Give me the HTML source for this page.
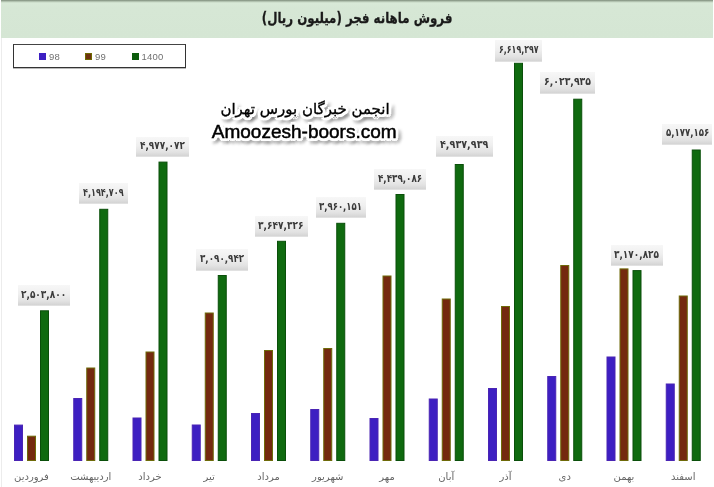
<!DOCTYPE html>
<html lang="fa"><head><meta charset="utf-8"><title>فروش ماهانه فجر</title>
<style>
html,body{margin:0;padding:0;background:#fff}
body{width:714px;height:487px;position:relative;overflow:hidden;font-family:"Liberation Sans","DejaVu Sans",sans-serif}
.hdr{position:absolute;left:1px;top:0;width:712px;height:38px;background:linear-gradient(#82917f 0,#9aaa98 1px,#c9dac7 2px,#d8e9d7 3.5px,#d6e7d5 8px,#d5e6d4 100%)}
.ax{position:absolute;left:1px;top:38px;width:1px;height:449px;background:#ececec}
.title{position:absolute;left:0;top:6px;width:714px;text-align:center;font-family:"DejaVu Sans",sans-serif;font-weight:bold;font-size:15px;color:#1a1a1a;direction:rtl;line-height:24px;-webkit-text-stroke:.3px #1a1a1a;transform:scaleX(.787);transform-origin:357.3px 50%}
.legend{position:absolute;left:13px;top:44px;width:171px;height:22px;border:1px solid #333;border-top-color:#444;background:#fff;box-shadow:0 .5px 0 #777}
.lg{position:absolute;top:7.6px;width:7px;height:7px}
.lt{position:absolute;top:5px;font-size:9.5px;letter-spacing:.25px;line-height:13px;color:#707070}
svg.bars{position:absolute;left:0;top:0}
.b{fill:#3d1fc2;stroke:#4a25b4;stroke-width:1}
.r{fill:#74290f;stroke:#6e6a08;stroke-width:1}
.g{fill:#0f6a0f;stroke:#0a4f0a;stroke-width:1}
.ml{position:absolute;top:468.5px;width:80px;text-align:center;font-family:"DejaVu Sans",sans-serif;font-size:10px;line-height:16px;color:#666;direction:rtl}
.dl{position:absolute;font-family:"DejaVu Sans",sans-serif;font-weight:bold;font-size:11px;line-height:16px;color:#3a3a3a;direction:ltr;background:linear-gradient(#f7f7f7 0,#efefef 45%,#e2e2e2 80%,#d4d4d4 100%);box-shadow:0 .6px 0 #cdcdcd}
.dl span{position:absolute;height:16px;line-height:16px;display:block}
.dl i{font-style:normal;display:inline-block;white-space:nowrap;position:absolute;left:0;top:0;transform-origin:0 50%}
.wm{position:absolute;width:300px;text-align:center;color:#000;white-space:nowrap;
text-shadow:1.50px 0.00px 0 #fff,1.06px 1.06px 0 #fff,0.00px 1.50px 0 #fff,-1.06px 1.06px 0 #fff,-1.50px 0.00px 0 #fff,-1.06px -1.06px 0 #fff,-0.00px -1.50px 0 #fff,1.06px -1.06px 0 #fff,3.00px 0.00px 0 #fff,2.60px 1.50px 0 #fff,1.50px 2.60px 0 #fff,0.00px 3.00px 0 #fff,-1.50px 2.60px 0 #fff,-2.60px 1.50px 0 #fff,-3.00px 0.00px 0 #fff,-2.60px -1.50px 0 #fff,-1.50px -2.60px 0 #fff,-0.00px -3.00px 0 #fff,1.50px -2.60px 0 #fff,2.60px -1.50px 0 #fff,4px 5px 3px rgba(0,0,0,.35),1px 6px 3px rgba(0,0,0,.3),6px 2px 3px rgba(0,0,0,.25),3px 4px 4px rgba(0,0,0,.3)}
.wm1{left:155px;top:97px;font-family:"DejaVu Sans",sans-serif;font-size:15px;line-height:24px;direction:rtl;-webkit-text-stroke:.35px #000}
.wm2{left:154.2px;top:119.5px;font-size:19px;line-height:24px;-webkit-text-stroke:.5px #000}
</style></head><body>
<div class="hdr"></div><div class="ax"></div>
<div class="title">فروش ماهانه فجر (میلیون ریال)</div>
<div class="legend">
<span class="lg" style="left:25px;background:#3d1fc2"></span><span class="lt" style="left:35px">98</span>
<span class="lg" style="left:71px;background:#6e3210;outline:1px solid #6e6a00;outline-offset:-1px"></span><span class="lt" style="left:81px">99</span>
<span class="lg" style="left:118px;background:#0c5c0c"></span><span class="lt" style="left:127.5px">1400</span>
</div>
<svg class="bars" width="714" height="487" viewBox="0 0 714 487">
<rect class="b" x="14.50" y="425.1" width="8" height="35.4"/>
<rect class="r" x="27.50" y="436.2" width="8" height="24.3"/>
<rect class="g" x="40.50" y="310.8" width="8" height="149.7"/>
<rect class="b" x="73.75" y="398.5" width="8" height="62.0"/>
<rect class="r" x="86.75" y="368.0" width="8" height="92.5"/>
<rect class="g" x="99.75" y="209.3" width="8" height="251.2"/>
<rect class="b" x="133.00" y="418.0" width="8" height="42.5"/>
<rect class="r" x="146.00" y="352.0" width="8" height="108.5"/>
<rect class="g" x="159.00" y="162.1" width="8" height="298.4"/>
<rect class="b" x="192.25" y="425.0" width="8" height="35.5"/>
<rect class="r" x="205.25" y="313.0" width="8" height="147.5"/>
<rect class="g" x="218.25" y="275.5" width="8" height="185.0"/>
<rect class="b" x="251.50" y="413.5" width="8" height="47.0"/>
<rect class="r" x="264.50" y="350.5" width="8" height="110.0"/>
<rect class="g" x="277.50" y="241.3" width="8" height="219.2"/>
<rect class="b" x="310.75" y="409.5" width="8" height="51.0"/>
<rect class="r" x="323.75" y="348.5" width="8" height="112.0"/>
<rect class="g" x="336.75" y="223.3" width="8" height="237.2"/>
<rect class="b" x="370.00" y="418.5" width="8" height="42.0"/>
<rect class="r" x="383.00" y="276.0" width="8" height="184.5"/>
<rect class="g" x="396.00" y="194.5" width="8" height="266.0"/>
<rect class="b" x="429.25" y="399.0" width="8" height="61.5"/>
<rect class="r" x="442.25" y="299.0" width="8" height="161.5"/>
<rect class="g" x="455.25" y="164.5" width="8" height="296.0"/>
<rect class="b" x="488.50" y="388.5" width="8" height="72.0"/>
<rect class="r" x="501.50" y="306.5" width="8" height="154.0"/>
<rect class="g" x="514.50" y="63.3" width="8" height="397.2"/>
<rect class="b" x="547.75" y="376.5" width="8" height="84.0"/>
<rect class="r" x="560.75" y="265.5" width="8" height="195.0"/>
<rect class="g" x="573.75" y="99.2" width="8" height="361.3"/>
<rect class="b" x="607.00" y="357.0" width="8" height="103.5"/>
<rect class="r" x="620.00" y="268.9" width="8" height="191.6"/>
<rect class="g" x="633.00" y="270.6" width="8" height="189.9"/>
<rect class="b" x="666.25" y="384.0" width="8" height="76.5"/>
<rect class="r" x="679.25" y="296.0" width="8" height="164.5"/>
<rect class="g" x="692.25" y="150.0" width="8" height="310.5"/>
</svg>
<div class="ml" style="left:-8.50px">فروردین</div>
<div class="dl" style="left:18.2px;top:284.8px;width:51.5px;height:20.4px"><span style="left:3.3px;top:2.1px;width:45.2px"><i style="transform:scaleX(0.816)">۲,۵۰۳,۸۰۰</i></span></div>
<div class="ml" style="left:50.75px">اردیبهشت</div>
<div class="dl" style="left:79.0px;top:182.8px;width:48.6px;height:20.6px"><span style="left:4.1px;top:1.9px;width:40.6px"><i style="transform:scaleX(0.733)">۴,۱۹۴,۷۰۹</i></span></div>
<div class="ml" style="left:110.00px">خرداد</div>
<div class="dl" style="left:136.1px;top:136.6px;width:52.9px;height:19.6px"><span style="left:3.9px;top:1.8px;width:44.9px"><i style="transform:scaleX(0.811)">۴,۹۷۷,۰۷۲</i></span></div>
<div class="ml" style="left:169.25px">تیر</div>
<div class="dl" style="left:196.2px;top:249.2px;width:51.5px;height:20.6px"><span style="left:3.5px;top:2.2px;width:44.1px"><i style="transform:scaleX(0.797)">۳,۰۹۰,۹۴۲</i></span></div>
<div class="ml" style="left:228.50px">مرداد</div>
<div class="dl" style="left:254.6px;top:216.4px;width:53.3px;height:20.0px"><span style="left:3.9px;top:1.3px;width:45.5px"><i style="transform:scaleX(0.822)">۳,۶۴۷,۳۲۶</i></span></div>
<div class="ml" style="left:287.75px">شهریور</div>
<div class="dl" style="left:315.7px;top:197.0px;width:50.0px;height:20.4px"><span style="left:3.5px;top:1.8px;width:43.0px"><i style="transform:scaleX(0.777)">۳,۹۶۰,۱۵۱</i></span></div>
<div class="ml" style="left:347.00px">مهر</div>
<div class="dl" style="left:373.9px;top:168.6px;width:52.0px;height:20.0px"><span style="left:3.9px;top:2.2px;width:44.2px"><i style="transform:scaleX(0.798)">۴,۴۳۹,۰۸۶</i></span></div>
<div class="ml" style="left:406.25px">آبان</div>
<div class="dl" style="left:436.3px;top:136.3px;width:56.4px;height:20.0px"><span style="left:3.9px;top:1.2px;width:48.4px"><i style="transform:scaleX(0.874)">۴,۹۳۷,۹۳۹</i></span></div>
<div class="ml" style="left:465.50px">آذر</div>
<div class="dl" style="left:495.2px;top:39.8px;width:46.8px;height:20.8px"><span style="left:3.8px;top:2.2px;width:39.6px"><i style="transform:scaleX(0.715)">۶,۶۱۹,۲۹۷</i></span></div>
<div class="ml" style="left:524.75px">دی</div>
<div class="dl" style="left:540.2px;top:72.0px;width:54.6px;height:21.0px"><span style="left:4.2px;top:1.6px;width:47.0px"><i style="transform:scaleX(0.849)">۶,۰۲۳,۹۳۵</i></span></div>
<div class="ml" style="left:584.00px">بهمن</div>
<div class="dl" style="left:610.8px;top:245.0px;width:52.1px;height:20.2px"><span style="left:3.4px;top:1.5px;width:45.0px"><i style="transform:scaleX(0.813)">۳,۱۷۰,۸۲۵</i></span></div>
<div class="ml" style="left:643.25px">اسفند</div>
<div class="dl" style="left:662.0px;top:124.2px;width:49.6px;height:20.2px"><span style="left:4.3px;top:1.3px;width:43.3px"><i style="transform:scaleX(0.782)">۵,۱۷۷,۱۵۶</i></span></div>
<div class="wm wm1">انجمن خبرگان بورس تهران</div>
<div class="wm wm2">Amoozesh-boors.com</div>
</body></html>
